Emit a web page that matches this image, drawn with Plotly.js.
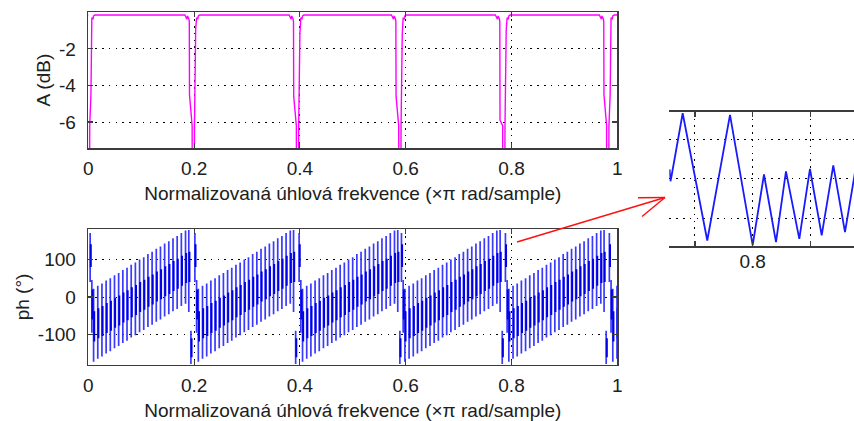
<!DOCTYPE html>
<html>
<head>
<meta charset="utf-8">
<script src="https://cdn.plot.ly/plotly-3.0.1.min.js"></script>
<style>
  html, body { margin: 0; padding: 0; background: #fff; }
  #chart { width: 854px; height: 421px; }
</style>
</head>
<body>
<div id="chart"></div>
<script>
// ---- Comb (notch) filter: frequency response ----

// Notch centres, normalized frequency (×π rad/sample)
const notchFreqs = [0.0005, 0.1985, 0.3955, 0.589, 0.7855, 0.982];
// Depth of the shoulders on each side of a notch (dB)
const notchLeftDb  = [-4.5, -4.5, -4.6, -4.6, -5.9, -4.5];
const notchRightDb = [-4.5, -0.9, -1.2, -1.2, -1.0, -4.5];

// Shape of the magnitude response around a notch (offset from centre, dB);
// null entries are the shoulders taken from notchLeftDb / notchRightDb
const magOffsets = [-0.016, -0.012, -0.011, -0.0085, -0.0076, -0.0072, -0.0022, -0.0006,
                     0.0006, 0.0022, 0.0045, 0.005, 0.0062, 0.0085, 0.0095, 0.012];
const magShapeDb = [-0.15, -0.38, -0.2, -0.35, -0.5, null, -6.2, -40,
                    -40, -6.2, null, -0.5, -0.3, -0.35, -0.2, -0.15];

// Phase between two notches: each oscillation of the wrapped phase
// (offset from the notch, highest and lowest phase, denser middle band), degrees
const spikeOffsets = [0.003, 0.0062,
  0.0095, 0.0174, 0.0253, 0.0332, 0.0411, 0.049, 0.0569, 0.0648, 0.0727, 0.0806, 0.0885, 0.0964,
  0.1043, 0.1122, 0.1201, 0.128, 0.1359, 0.1438, 0.1517, 0.1596, 0.1675, 0.1754, 0.1833,
  0.1895, 0.1935];
const spikeHigh = [170, 45,
  22, 30, 36, 44, 50, 58, 64, 72, 78, 86, 92, 100,
  106, 114, 120, 128, 134, 142, 148, 156, 162, 170, 177,
  178, -90];
const spikeLow = [40, -95,
  -172, -164, -158, -150, -144, -136, -130, -122, -116, -108, -102, -94,
  -88, -80, -74, -66, -60, -52, -46, -38, -32, -24, -18,
  -40, -178];
const bandHigh = [140, 20,
  -38, -30, -24, -16, -10, -2, 4, 12, 18, 26, 32, 40,
  46, 54, 60, 68, 74, 82, 88, 96, 102, 110, 117,
  120, -110];
const bandLow = [80, -60,
  -118, -110, -104, -96, -90, -82, -76, -68, -62, -54, -48, -40,
  -34, -26, -20, -12, -6, 2, 8, 16, 22, 30, 37,
  40, -160];

// Close-up of the phase just after the notch near 0.8
const zoomFreq  = [0.7856, 0.78575, 0.7859, 0.78787, 0.79213, 0.79607, 0.8, 0.80196, 0.80404,
                   0.80577, 0.80808, 0.80993, 0.81196, 0.81397, 0.816, 0.818];
const zoomPhase = [24, -6, 4, 166, -156, 162, -168, 11, -160, 19, -152, 25, -143, 34, -135, 40];

// Tick labels (plain hyphen-minus)
const freqTicks = [0, 0.2, 0.4, 0.6, 0.8, 1];
const freqTickText = ['0', '0.2', '0.4', '0.6', '0.8', '1'];
const magTicks = [-6, -4, -2];
const magTickText = ['-6', '-4', '-2'];
const phaseTicks = [-100, 0, 100];
const phaseTickText = ['-100', '0', '100'];
const zoomTicks = [0.79, 0.8, 0.81];
const zoomTickText = ['', '0.8', ''];

const xTitle = 'Normalizovaná úhlová frekvence (×π rad/sample)';

// ---- build the magnitude curve ----
const magX = [0], magY = [-0.15];
notchFreqs.forEach((c, k) => {
  magOffsets.forEach((o, i) => {
    let v = magShapeDb[i];
    if (v === null) v = (o < 0) ? notchLeftDb[k] : notchRightDb[k];
    magX.push(c + o); magY.push(v);
  });
});
magX.push(1); magY.push(-0.15);

// ---- build the phase curve: full swings plus the denser middle band ----
const bandShift = 0.0012;
const phX = [], phY = [], bandX = [], bandY = [];
notchFreqs.forEach((c) => {
  spikeOffsets.forEach((o, j) => {
    const f = c + o;
    if (f > 1.002) return;
    phX.push(f, f, null);
    phY.push(spikeHigh[j], spikeLow[j], null);
    bandX.push(f + bandShift, f + bandShift, null);
    bandY.push(bandHigh[j], bandLow[j], null);
  });
});

const font = { family: 'Liberation Sans, Arial, sans-serif', size: 19, color: '#202020' };
const boxColor = '#3c3c3c';
const dots = '1.6px,5.2px';

function mainX(anchor) {
  return {
    anchor: anchor, domain: [88.3 / 854, 617.3 / 854], range: [0, 1],
    tickvals: freqTicks, ticktext: freqTickText, ticks: 'inside', ticklen: 5,
    tickcolor: boxColor, tickwidth: 1.2, ticklabelstandoff: 3,
    showline: true, linecolor: boxColor, linewidth: 1.6, mirror: 'ticks',
    showgrid: true, gridcolor: '#000', griddash: dots, gridwidth: 1,
    zeroline: false, tickfont: font, fixedrange: true,
    title: { text: xTitle, font: font, standoff: 8 }
  };
}
function mainY(anchor, domain, range, vals, text, title) {
  return {
    anchor: anchor, domain: domain, range: range,
    tickvals: vals, ticktext: text, ticks: 'inside', ticklen: 5,
    tickcolor: boxColor, tickwidth: 1.2, ticklabelstandoff: 7,
    showline: true, linecolor: boxColor, linewidth: 1.6, mirror: 'ticks',
    showgrid: true, gridcolor: '#000', griddash: dots, gridwidth: 1,
    zeroline: false, tickfont: font, fixedrange: true,
    title: { text: title, font: font, standoff: 3 }
  };
}

const traces = [
  { x: magX, y: magY, xaxis: 'x', yaxis: 'y', type: 'scatter', mode: 'lines',
    line: { color: '#ff00ff', width: 1.4 }, hoverinfo: 'skip' },
  { x: phX, y: phY, xaxis: 'x2', yaxis: 'y2', type: 'scatter', mode: 'lines', connectgaps: false,
    line: { color: '#3a3aff', width: 1.7 }, hoverinfo: 'skip' },
  { x: bandX, y: bandY, xaxis: 'x2', yaxis: 'y2', type: 'scatter', mode: 'lines', connectgaps: false,
    line: { color: '#0000e6', width: 2.0 }, hoverinfo: 'skip' },
  { x: zoomFreq, y: zoomPhase, xaxis: 'x3', yaxis: 'y3', type: 'scatter', mode: 'lines',
    line: { color: '#1a1aff', width: 1.8 }, hoverinfo: 'skip' }
];

// red arrow pointing from the phase plot to the close-up
const P = (x, y) => ({ x: x / 854, y: 1 - y / 421 });
const a0 = P(517, 242), a1 = P(665, 197.5), b1 = P(638, 197.8), b2 = P(642, 216.5);
const red = { color: '#ff1010', width: 1.4 };
const shapes = [
  { type: 'line', xref: 'paper', yref: 'paper', x0: a0.x, y0: a0.y, x1: a1.x, y1: a1.y, line: red },
  { type: 'line', xref: 'paper', yref: 'paper', x0: b1.x, y0: b1.y, x1: a1.x, y1: a1.y, line: red },
  { type: 'line', xref: 'paper', yref: 'paper', x0: b2.x, y0: b2.y, x1: a1.x, y1: a1.y, line: red }
];

const layout = {
  width: 854, height: 421,
  margin: { l: 0, r: 0, t: 0, b: 0 },
  paper_bgcolor: '#fff', plot_bgcolor: '#fff',
  showlegend: false,
  font: font,
  xaxis: mainX('y'),
  yaxis: mainY('x', [1 - 148 / 421, 1 - 12.3 / 421], [-7.42, 0], magTicks, magTickText, 'A (dB)'),
  xaxis2: mainX('y2'),
  yaxis2: mainY('x2', [1 - 364.7 / 421, 1 - 229.3 / 421], [-180, 180], phaseTicks, phaseTickText, 'ph (°)'),
  xaxis3: {
    anchor: 'y3', domain: [669.3 / 854, 1], range: [0.78555, 0.81756],
    tickvals: zoomTicks, ticktext: zoomTickText, ticks: 'inside', ticklen: 5,
    tickcolor: boxColor, tickwidth: 1.2, ticklabelstandoff: -2,
    showline: true, linecolor: boxColor, linewidth: 1.6, mirror: 'ticks',
    showgrid: true, gridcolor: '#000', griddash: dots, gridwidth: 1,
    zeroline: false, tickfont: font, fixedrange: true
  },
  yaxis3: {
    anchor: 'x3', domain: [1 - 246 / 421, 1 - 111.7 / 421], range: [-170, 170],
    tickvals: phaseTicks, showticklabels: false, ticks: '',
    showline: false, showgrid: true, gridcolor: '#000', griddash: dots, gridwidth: 1,
    zeroline: false, fixedrange: true
  },
  shapes: shapes
};

Plotly.newPlot('chart', traces, layout, { staticPlot: true, displayModeBar: false });
</script>
</body>
</html>
